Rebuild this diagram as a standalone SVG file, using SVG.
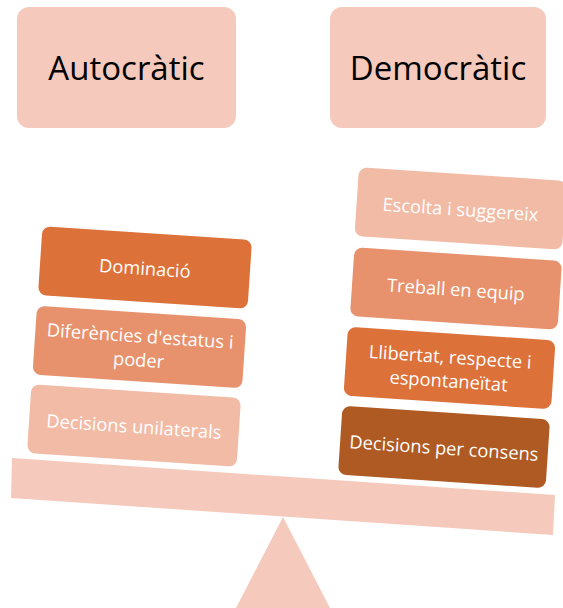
<svg xmlns="http://www.w3.org/2000/svg" width="563" height="608" viewBox="0 0 563 608">
<style>
.hdr{fill:#F5C9BB}
.hdrt{font-family:"Open Sans","Liberation Sans",sans-serif;font-size:33px;fill:#000;text-anchor:middle;dominant-baseline:central}
.t{font-family:"Open Sans","Liberation Sans",sans-serif;font-size:18.3px;fill:#fff;text-anchor:middle;dominant-baseline:central}
.c1{fill:#F2BBA6}
.c2{fill:#E8926D}
.c3{fill:#DC7139}
.c4{fill:#AF5A22}
</style>
<g id="autocratic">
<rect class="hdr" x="17" y="7" width="219" height="121" rx="12"/>
<text class="hdrt" x="126.5" y="67">Autocràtic</text>
</g>
<g id="democratic">
<rect class="hdr" x="330" y="7" width="216" height="121" rx="12"/>
<text class="hdrt" x="438" y="67">Democràtic</text>
</g>
<g id="fulcrum">
<polygon class="hdr" points="283,517 330,608 236,608"/>
</g>
<g id="beam">
<polygon class="hdr" points="12,458 555,495 553,535 11,498"/>
</g>
<g id="dominacio" transform="translate(145,267.5) rotate(3.8)">
<rect class="c3" x="-105" y="-34.5" width="210" height="69" rx="8"/>
<text class="t" x="0" y="0">Dominació</text>
</g>
<g id="diferencies" transform="translate(139.5,347) rotate(3.8)">
<rect class="c2" x="-105" y="-34.5" width="210" height="69" rx="8"/>
<text class="t" x="0" y="-12">Diferències d'estatus i</text>
<text class="t" x="0" y="12">poder</text>
</g>
<g id="unilaterals" transform="translate(134,425.5) rotate(3.8)">
<rect class="c1" x="-105" y="-34.5" width="210" height="69" rx="8"/>
<text class="t" x="0" y="0">Decisions unilaterals</text>
</g>
<g id="escolta" transform="translate(460.5,208.5) rotate(3.8)">
<rect class="c1" x="-104" y="-34.5" width="208" height="69" rx="8"/>
<text class="t" x="0" y="0">Escolta i suggereix</text>
</g>
<g id="treball" transform="translate(456,288.5) rotate(3.8)">
<rect class="c2" x="-104" y="-34.5" width="208" height="69" rx="8"/>
<text class="t" x="0" y="0">Treball en equip</text>
</g>
<g id="llibertat" transform="translate(449.5,368) rotate(3.8)">
<rect class="c3" x="-104" y="-34.5" width="208" height="69" rx="8"/>
<text class="t" x="0" y="-12">Llibertat, respecte i</text>
<text class="t" x="0" y="12">espontaneïtat</text>
</g>
<g id="consens" transform="translate(444,447) rotate(3.8)">
<rect class="c4" x="-104" y="-34.5" width="208" height="69" rx="8"/>
<text class="t" x="0" y="0">Decisions per consens</text>
</g>
<g id="connectors"></g>
</svg>
